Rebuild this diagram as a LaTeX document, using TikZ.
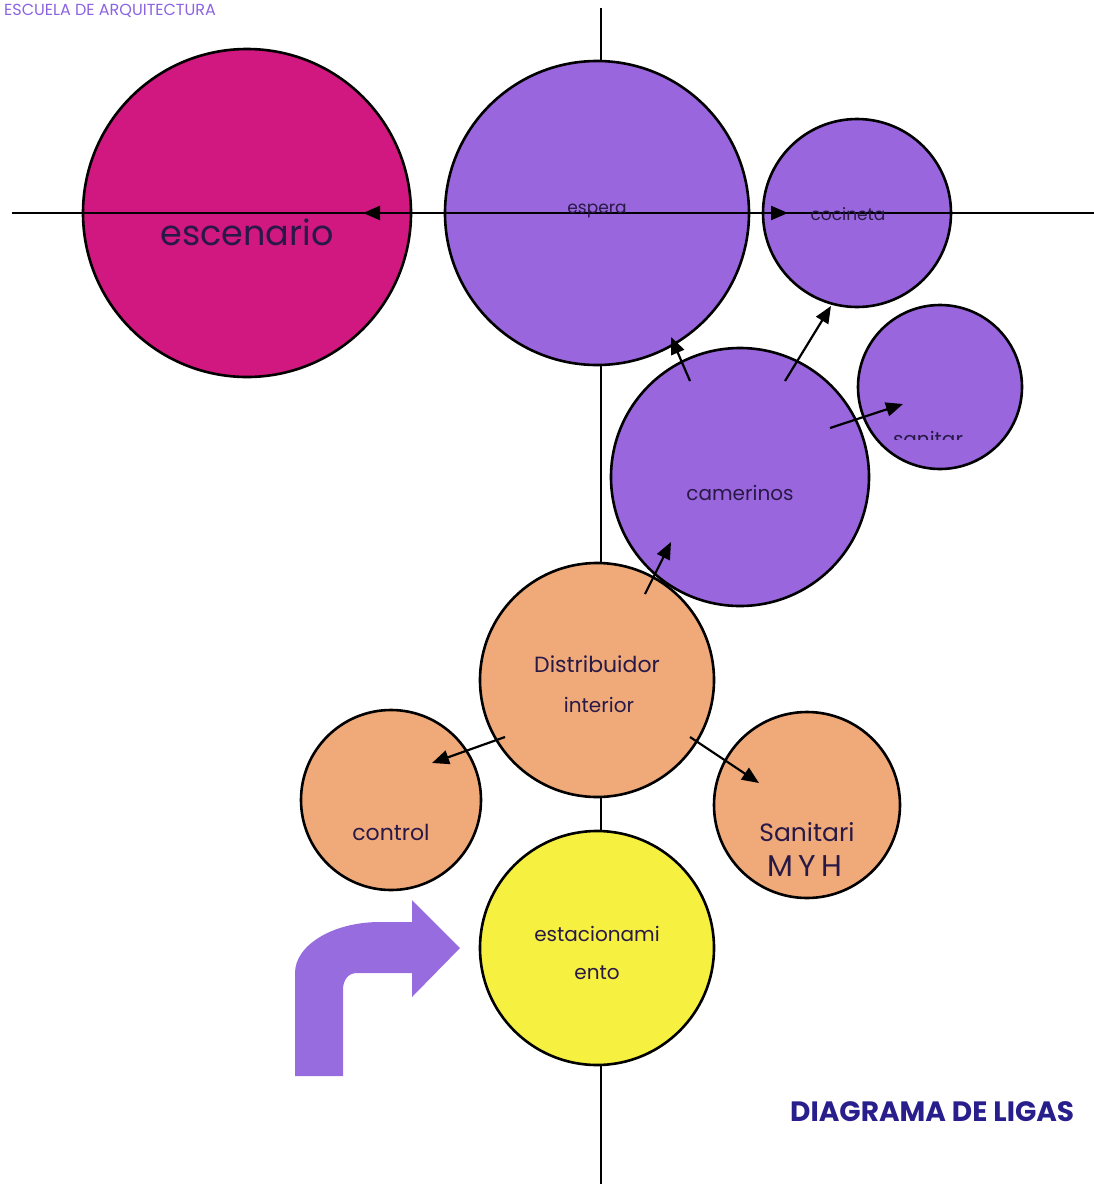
\documentclass[tikz,border=0pt]{standalone}
\usepackage{fontspec}
\setmainfont{Poppins}
\newfontfamily\titlefont{Poppins}
\usetikzlibrary{arrows.meta}
\definecolor{cMag}{RGB}{208,24,128}
\definecolor{cPur}{RGB}{153,102,221}
\definecolor{cOra}{RGB}{240,170,122}
\definecolor{cYel}{RGB}{246,240,64}
\definecolor{cArrow}{RGB}{150,108,222}
\definecolor{cTitle}{RGB}{40,30,140}
\definecolor{cTop}{RGB}{140,100,225}
\definecolor{cLab}{RGB}{40,25,70}
\tikzset{
  circ/.style={circle, draw=black, line width=2.6pt, inner sep=0pt, outer sep=0pt},
  lab/.style={text=cLab, inner sep=0pt, font=\fontsize{20}{20}\selectfont},
  conn/.style={line width=2.2pt, -{Triangle[length=17pt,width=14pt]}},
  axis/.style={line width=1.6pt, black},
}
\begin{document}
\begin{tikzpicture}[x=1pt,y=-1pt]
\useasboundingbox (0,0) rectangle (1094,1184);
% top header
\node[anchor=base west, text=cTop, font=\titlefont\fontsize{16}{16}\selectfont, inner sep=0pt] (hdr) at (4,15) {ESCUELA DE ARQUITECTURA};
% vertical axis
\coordinate (vtop) at (601,8);
\coordinate (vbot) at (601,1190);
\draw[axis] (vtop) -- (vbot);
% circles
\node[circ, fill=cMag, minimum size=328pt] (escenario) at (247,213) {};
\node[circ, fill=cPur, minimum size=304pt] (espera) at (597,213) {};
\node[circ, fill=cPur, minimum size=188pt] (cocineta) at (857,213) {};
\node[circ, fill=cPur, minimum size=164pt] (sanitar) at (940,387) {};
\node[circ, fill=cPur, minimum size=258pt] (camerinos) at (740,477) {};
\node[circ, fill=cOra, minimum size=234pt] (distrib) at (597,680) {};
\node[circ, fill=cOra, minimum size=180pt] (control) at (391,800) {};
\node[circ, fill=cOra, minimum size=186pt] (sanmyh) at (807,805) {};
\node[circ, fill=cYel, minimum size=234pt] (estac) at (597,948) {};
% horizontal axis
\coordinate (hleft) at (12,213);
\coordinate (hright) at (1100,213);
\draw[axis] (hleft) -- (hright);
% labels
\node[lab, font=\fontsize{35}{35}\selectfont] (tEsc) at (247,232) {escenario};
\node[lab, font=\fontsize{17}{17}\selectfont] (tEsp) at (597,211) {espera};
\node[lab, font=\fontsize{17}{17}\selectfont] (tCoc) at (848,214) {cocineta};
\begin{scope}
\clip (850,410) rectangle (1000,439);
\node[lab, font=\fontsize{20}{20}\selectfont, anchor=base] (tSan) at (928,446) {sanitar};
\end{scope}
\node[lab] (tCam) at (740,493) {camerinos};
\node[lab, font=\fontsize{22}{22}\selectfont] (tDis1) at (597,664) {Distribuidor};
\node[lab] (tDis2) at (599,705) {interior};
\node[lab, font=\fontsize{22}{22}\selectfont] (tCon) at (391,832) {control};
\node[lab, font=\fontsize{25}{25}\selectfont] (tSm1) at (807,832) {Sanitari};
\node[lab, font=\fontsize{30}{30}\selectfont] (tSm2) at (805,866) {M\,Y\,H};
\node[lab] (tEst1) at (597,934) {estacionami};
\node[lab] (tEst2) at (597,973) {ento};
% connector end points
\coordinate (pEspL) at (480,213);
\coordinate (pEscTip) at (363,213);
\coordinate (pEspR) at (700,213);
\coordinate (pCocTip) at (788,213);
\coordinate (c1) at (690,381);
\coordinate (e1) at (671,337);
\coordinate (c2) at (785,381);
\coordinate (e2) at (831,306);
\coordinate (c3) at (830,428);
\coordinate (e3) at (903,404);
\coordinate (d1) at (645,594);
\coordinate (f1) at (671,542);
\coordinate (d2) at (505,737);
\coordinate (f2) at (432,763);
\coordinate (d3) at (690,737);
\coordinate (f3) at (759,783);
\draw[conn] (pEspL) -- (pEscTip);
\draw[conn] (pEspR) -- (pCocTip);
\draw[conn] (c1) -- (e1);
\draw[conn] (c2) -- (e2);
\draw[conn] (c3) -- (e3);
\draw[conn] (d1) -- (f1);
\draw[conn] (d2) -- (f2);
\draw[conn] (d3) -- (f3);
% curved purple arrow
\fill[cArrow] (295,1076) -- (295,973) .. controls (295,945) and (333,922) .. (380,922)
  -- (412,922) -- (412,900) -- (460,948) -- (412,997) -- (412,973) -- (357,973)
  .. controls (348,973) and (343,980) .. (343,990) -- (343,1076) -- cycle;
% title
\node[anchor=base west, text=cTitle, font=\titlefont\bfseries\fontsize{28}{28}\selectfont, inner sep=0pt] (title) at (790,1121) {DIAGRAMA DE LIGAS};
\end{tikzpicture}
\end{document}
